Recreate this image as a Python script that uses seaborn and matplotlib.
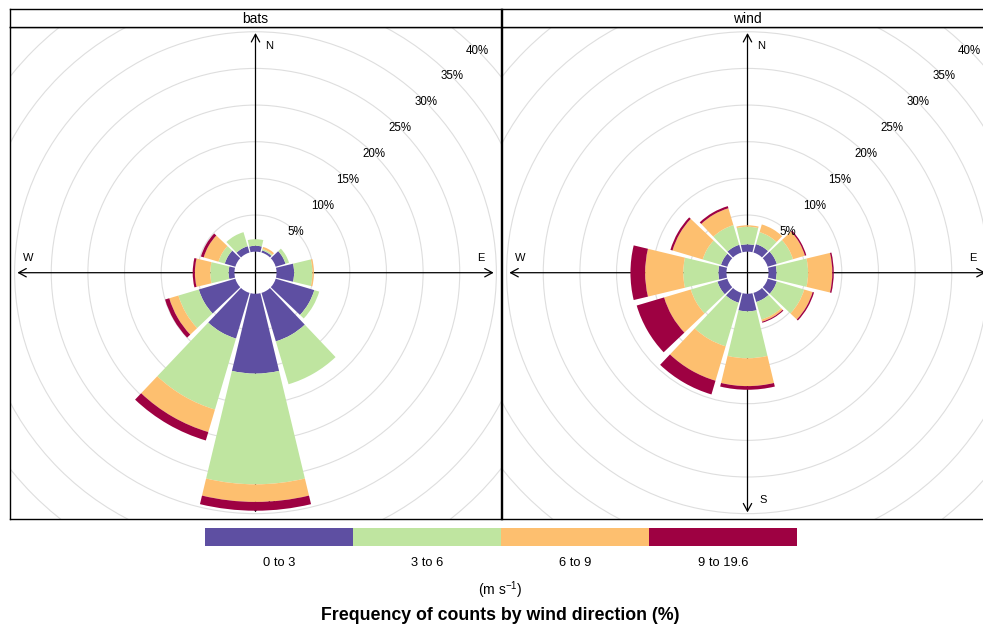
import numpy as np
import matplotlib
matplotlib.use("Agg")
import matplotlib.pyplot as plt
from matplotlib.patches import Wedge, Circle
from matplotlib.colors import ListedColormap
import seaborn as sns

# Wind direction sectors (degrees clockwise from north)
directions = [0, 30, 60, 90, 120, 150, 180, 210, 240, 270, 300, 330]

# Frequency (%) in each wind-speed band, per sector: bats panel
bats_0_3 = [0.8, 0.3, 1.4, 2.4, 5.5, 6.9, 10.9, 6.5, 5.2, 0.8, 1.5, 0.9]
bats_3_6 = [0.9, 0.2, 0.5, 2.5, 0.7, 6.1, 15.1, 10.1, 2.9, 2.5, 0.9, 2.0]
bats_6_9 = [0.0, 0.3, 0.0, 0.2, 0.0, 0.0, 2.4, 3.2, 1.3, 2.1, 2.1, 0.0]
bats_9_plus = [0.0, 0.0, 0.0, 0.0, 0.0, 0.0, 1.2, 1.2, 0.6, 0.3, 0.4, 0.0]

# Frequency (%) in each wind-speed band, per sector: wind panel
wind_0_3 = [1.0, 1.2, 1.3, 1.1, 1.3, 1.3, 2.4, 1.4, 1.4, 1.1, 0.9, 1.1]
wind_3_6 = [2.4, 1.7, 2.3, 4.3, 3.9, 2.5, 6.4, 6.2, 3.8, 4.8, 2.6, 2.8]
wind_6_9 = [0.2, 1.1, 1.7, 3.3, 1.2, 0.3, 3.8, 4.9, 3.8, 5.2, 4.3, 2.4]
wind_9_plus = [0.0, 0.0, 0.2, 0.2, 0.2, 0.15, 0.5, 1.95, 3.9, 2.0, 0.3, 0.3]

panel_names = ["bats", "wind"]
speed_labels = ["0 to 3", "3 to 6", "6 to 9", "9 to 19.6"]
grid_levels = [5, 10, 15, 20, 25, 30, 35, 40]

band_colors = ["#5E4FA2", "#BFE5A0", "#FDBF6F", "#9E0142"]

sns.set_style("white")
plt.rcParams["font.family"] = ["Liberation Sans", "DejaVu Sans"]
plt.rcParams["text.color"] = "black"
plt.rcParams["xtick.color"] = "black"
plt.rcParams["mathtext.fontset"] = "custom"
plt.rcParams["mathtext.rm"] = "Liberation Sans"
plt.rcParams["mathtext.it"] = "Liberation Sans:italic"

W_PX, H_PX = 983, 628
fig = plt.figure(figsize=(W_PX / 100, H_PX / 100), dpi=100)

HOLE = 2.87          # radius of the empty centre, in % units
HALF = 13.5          # half angular width of each sector wedge
XLIM = (-33.5, 33.5)
YLIM = (-33.6, 33.52)


def fx(px):
    return px / W_PX


def fy(px):
    return 1 - px / H_PX


def draw_rose(ax, bands):
    ax.set_xlim(*XLIM)
    ax.set_ylim(*YLIM)
    ax.set_xticks([])
    ax.set_yticks([])
    for s in ax.spines.values():
        s.set_visible(True)
        s.set_color("black")
        s.set_linewidth(1.0)

    # concentric frequency grid
    for lev in grid_levels:
        ax.add_patch(Circle((0, 0), HOLE + lev, fill=False,
                            edgecolor="#dedede", lw=0.8, zorder=1))

    # compass axes with open arrowheads
    arrow = dict(arrowstyle="->,head_length=0.55,head_width=0.3",
                 lw=0.9, color="black", shrinkA=0, shrinkB=0)
    for tip in [(0, 32.7), (0, -32.7), (32.5, 0), (-32.5, 0)]:
        ax.annotate("", xy=tip, xytext=(0, 0), arrowprops=arrow, zorder=2)
    ax.text(1.9, 30.9, "N", fontsize=8, ha="center", va="center", zorder=2)
    ax.text(2.2, -31.0, "S", fontsize=8, ha="center", va="center", zorder=2)
    ax.text(30.8, 2.0, "E", fontsize=8, ha="center", va="center", zorder=2)
    ax.text(-31.0, 2.0, "W", fontsize=8, ha="center", va="center", zorder=2)

    # stacked wedges per sector
    for i, d in enumerate(directions):
        inner = HOLE
        for b, vals in enumerate(bands):
            v = vals[i]
            if v <= 0:
                continue
            outer = inner + v
            ax.add_patch(Wedge((0, 0), outer, 90 - d - HALF, 90 - d + HALF,
                               width=v, facecolor=band_colors[b],
                               edgecolor="none", zorder=3))
            inner = outer

    # percentage labels along the north-east diagonal
    c45 = np.cos(np.pi / 4)
    for lev in grid_levels:
        r = HOLE + lev
        ax.text(r * c45, r * c45, f"{lev}%", fontsize=8.3, ha="center",
                va="center", zorder=5, color="black")


def add_strip(left_px, name):
    sax = fig.add_axes([fx(left_px), fy(27), 491 / W_PX, 18 / H_PX])
    sax.set_xticks([])
    sax.set_yticks([])
    sax.set_facecolor("white")
    for s in sax.spines.values():
        s.set_visible(True)
        s.set_color("black")
        s.set_linewidth(1.0)
    sax.text(0.5, 0.45, name, ha="center", va="center", fontsize=10,
             transform=sax.transAxes)


panel_bands = [
    [bats_0_3, bats_3_6, bats_6_9, bats_9_plus],
    [wind_0_3, wind_3_6, wind_6_9, wind_9_plus],
]
panel_left = [10, 502]

for name, bands, left in zip(panel_names, panel_bands, panel_left):
    ax = fig.add_axes([fx(left), fy(519), 491 / W_PX, 492 / H_PX])
    draw_rose(ax, bands)
    add_strip(left, name)

# speed-band key
cax = fig.add_axes([fx(205), fy(546), 592 / W_PX, 18 / H_PX])
key = np.arange(len(speed_labels)).reshape(1, -1)
sns.heatmap(key, cmap=ListedColormap(band_colors), cbar=False, ax=cax,
            xticklabels=speed_labels, yticklabels=False, linewidths=0)
cax.tick_params(axis="x", length=0, pad=8, labelsize=9.3, labelrotation=0,
                labelcolor="black")
for s in cax.spines.values():
    s.set_visible(False)

fig.text(fx(500), fy(590), "(m s$^{-1}$)", ha="center", va="center",
         fontsize=10)
fig.text(fx(500), fy(615), "Frequency of counts by wind direction (%)",
         ha="center", va="center", fontsize=12.8, fontweight="bold")

fig.savefig("out.png", dpi=100, facecolor="white")
